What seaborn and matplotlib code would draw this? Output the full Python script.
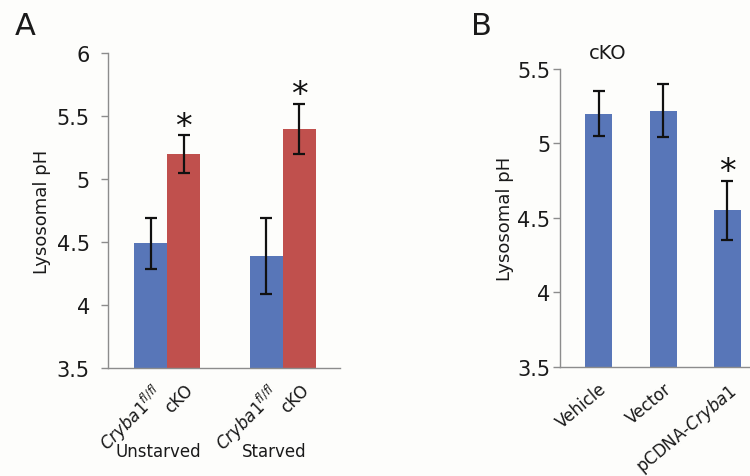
import matplotlib
matplotlib.use("Agg")
import matplotlib.pyplot as plt
import seaborn as sns
import pandas as pd
import numpy as np

# ---------------- data ----------------
groups_a = ["Unstarved", "Starved"]
genotypes_a = ["Cryba1fl/fl", "cKO"]
ph_control_a = [4.49, 4.39]
ph_cko_a = [5.20, 5.40]
err_control_a = [0.20, 0.30]
err_cko_a = [0.15, 0.20]
tick_labels_a = [r"$\mathit{Cryba1}^{\mathit{fl/fl}}$", "cKO"]

conds_b = ["Vehicle", "Vector", "pCDNA-Cryba1"]
ph_b = [5.20, 5.22, 4.55]
err_b = [0.15, 0.18, 0.20]
sig_b = [False, False, True]
tick_labels_b = ["Vehicle", "Vector", r"pCDNA-$\mathit{Cryba1}$"]

blue = "#5876B8"
red = "#C0504D"
bg = "#FDFDFB"

sns.set_theme(style="white")
plt.rcParams["font.family"] = ["DejaVu Sans"]
plt.rcParams["mathtext.fontset"] = "dejavusans"

txt_c = "#1a1a1a"

fig = plt.figure(figsize=(7.5, 4.77), dpi=100, facecolor=bg)
axA = fig.add_axes([0.144, 0.2264, 0.309, 0.660])
axB = fig.add_axes([0.7467, 0.2285, 0.2533, 0.625])
for ax in (axA, axB):
    ax.set_facecolor(bg)

spine_c = "#8C8C8C"

# ---------------- panel A ----------------
dfA = pd.DataFrame({
    "group": groups_a * 2,
    "genotype": [genotypes_a[0]] * 2 + [genotypes_a[1]] * 2,
    "ph": ph_control_a + ph_cko_a,
    "err": err_control_a + err_cko_a,
})
sns.barplot(data=dfA, x="group", y="ph", hue="genotype", order=groups_a,
            hue_order=genotypes_a, palette=[blue, red], width=0.57,
            errorbar=None, ax=axA, legend=False, saturation=1, linewidth=0)
tick_pos = []
tick_lab = []
star_flags = {genotypes_a[0]: [False, False], genotypes_a[1]: [True, True]}
for cont, gen, errs, lab in zip(axA.containers, genotypes_a,
                                 [err_control_a, err_cko_a], tick_labels_a):
    for bar, e, st in zip(cont.patches, errs, star_flags[gen]):
        xc = bar.get_x() + bar.get_width() / 2
        h = bar.get_height() + bar.get_y()
        axA.errorbar(xc, h, yerr=e, fmt="none", ecolor="#111111",
                     elinewidth=1.6, capsize=4, capthick=1.6, zorder=5)
        if st:
            axA.text(xc, h + e - 0.06, "*", ha="center", va="bottom",
                     fontsize=24, color="#111111")
        tick_pos.append(xc)
        tick_lab.append(lab)
axA.set_ylim(3.5, 6)
axA.set_xlim(-0.51, 1.49)
axA.set_yticks([3.5, 4, 4.5, 5, 5.5, 6])
axA.set_yticklabels(["3.5", "4", "4.5", "5", "5.5", "6"], fontsize=15,
                    color=txt_c)
axA.set_xticks(tick_pos)
axA.set_xticklabels(tick_lab, rotation=45, ha="right", rotation_mode="anchor",
                    fontsize=12, color=txt_c)
axA.set_xlabel("")
axA.set_ylabel("Lysosomal pH", fontsize=13, labelpad=4, color=txt_c)
for i, g in enumerate(groups_a):
    axA.text(i - 0.08, -0.265, g, transform=axA.get_xaxis_transform(),
             ha="center", va="center", fontsize=12, color=txt_c)

# ---------------- panel B ----------------
dfB = pd.DataFrame({"cond": conds_b, "ph": ph_b, "err": err_b})
sns.barplot(data=dfB, x="cond", y="ph", order=conds_b, color=blue, width=0.42,
            errorbar=None, ax=axB, saturation=1, linewidth=0)
for bar, e, st in zip(axB.containers[0].patches, err_b, sig_b):
    xc = bar.get_x() + bar.get_width() / 2
    h = bar.get_height() + bar.get_y()
    axB.errorbar(xc, h, yerr=e, fmt="none", ecolor="#111111",
                 elinewidth=1.6, capsize=4, capthick=1.6, zorder=5)
    if st:
        axB.text(xc, h + e - 0.05, "*", ha="center", va="bottom",
                 fontsize=24, color="#111111")
axB.set_ylim(3.5, 5.5)
axB.set_xlim(-0.6, 2.35)
axB.set_yticks([3.5, 4, 4.5, 5, 5.5])
axB.set_yticklabels(["3.5", "4", "4.5", "5", "5.5"], fontsize=15,
                    color=txt_c)
axB.set_xticks(range(len(conds_b)))
axB.set_xticklabels(tick_labels_b, rotation=40, ha="right",
                    rotation_mode="anchor", fontsize=12, color=txt_c)
axB.set_xlabel("")
axB.set_ylabel("Lysosomal pH", fontsize=13, labelpad=2, color=txt_c)
axB.set_title("cKO", fontsize=14, pad=8, x=0.25, color=txt_c)

for ax, pad in ((axA, 8), (axB, 2)):
    sns.despine(ax=ax)
    for s in ("left", "bottom"):
        ax.spines[s].set_color(spine_c)
        ax.spines[s].set_linewidth(1.0)
    ax.tick_params(axis="y", which="major", left=True, length=5, width=1,
                   color=spine_c, pad=pad)
    ax.tick_params(axis="x", which="major", bottom=False, pad=3)

fig.text(0.02, 0.975, "A", fontsize=22, va="top", ha="left", color=txt_c)
fig.text(0.628, 0.975, "B", fontsize=22, va="top", ha="left", color=txt_c)

fig.savefig("out.png", dpi=100, facecolor=bg)
